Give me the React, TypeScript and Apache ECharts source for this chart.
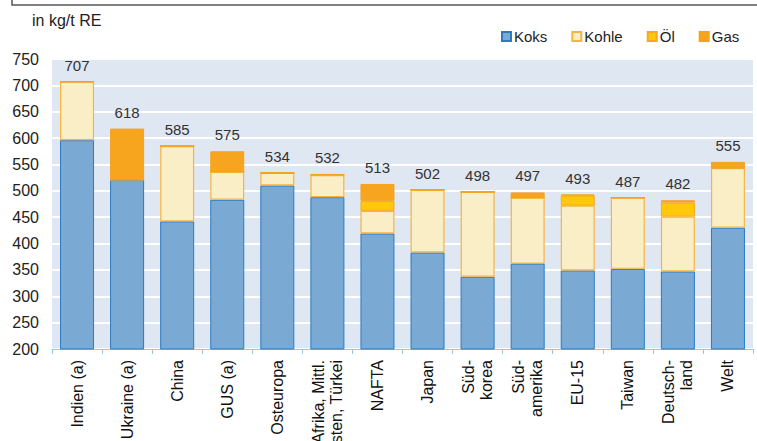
import React, { useEffect, useRef } from "react";
import * as echarts from "echarts";

const categories = [
  "Indien (a)",
  "Ukraine (a)",
  "China",
  "GUS (a)",
  "Osteuropa",
  "Afrika, Mittl.\nOsten, Türkei",
  "NAFTA",
  "Japan",
  "Süd-\nkorea",
  "Süd-\namerika",
  "EU-15",
  "Taiwan",
  "Deutsch-\nland",
  "Welt",
];
const koks = [596, 521, 442, 483, 510, 488, 419, 383, 337, 362, 349, 352, 347, 430];
const kohle = [111, 0, 143, 53, 24, 42, 43, 119, 161, 125, 123, 135, 104, 113];
const oel = [0, 0, 0, 0, 0, 0, 19, 0, 0, 0, 19, 0, 27, 0];
const gas = [0, 97, 0, 39, 0, 2, 32, 0, 0, 10, 2, 0, 4, 12];
const totals = [707, 618, 585, 575, 534, 532, 513, 502, 498, 497, 493, 487, 482, 555];
const yTicks = { min: 200, max: 750, interval: 50 };

export default function App() {
  const ref = useRef<HTMLDivElement>(null);
  useEffect(() => {
    if (!ref.current) return;
    const chart = echarts.init(ref.current, undefined, { renderer: "svg" });
    const font = "'Liberation Sans', Arial, sans-serif";
    const barW = 34;
    chart.setOption({
      animation: false,
      textStyle: { fontFamily: font },
      grid: {
        left: 52,
        right: 4,
        top: 59,
        bottom: 92,
        show: true,
        backgroundColor: "#DFE7F2",
        borderWidth: 0,
        containLabel: false,
        outerBoundsMode: "none",
      },
      legend: {
        left: 496,
        top: 24,
        itemWidth: 9,
        itemHeight: 9,
        itemGap: 24,
        icon: "rect",
        textStyle: { fontSize: 15, color: "#222", fontFamily: font, padding: [0, 0, 0, -2] },
        data: ["Koks", "Kohle", "Öl", "Gas"],
      },
      graphic: [
        {
          type: "polyline",
          shape: { points: [[12, -2], [12, 5], [757, 5]] },
          style: { stroke: "#555", lineWidth: 1.5, fill: "none" },
        },
        {
          type: "text",
          left: 32,
          top: 12,
          style: { text: "in kg/t RE", fontSize: 16, fill: "#222", fontFamily: font },
        },
      ],
      xAxis: {
        type: "category",
        data: categories,
        axisLine: { lineStyle: { color: "#9DC3E6", width: 1 } },
        axisTick: { show: true, length: 5, lineStyle: { color: "#9DC3E6" } },
        axisLabel: {
          rotate: 90,
          interval: 0,
          fontSize: 16,
          color: "#111",
          margin: 11,
          lineHeight: 18,
          fontFamily: font,
        },
      },
      yAxis: {
        type: "value",
        min: yTicks.min,
        max: yTicks.max,
        interval: yTicks.interval,
        axisLine: { show: false },
        axisTick: { show: false },
        splitLine: { lineStyle: { color: "#FFFFFF", width: 2 } },
        axisLabel: { fontSize: 16, color: "#222", margin: 13, fontFamily: font },
      },
      series: [
        {
          name: "Koks",
          type: "bar",
          stack: "s",
          barWidth: barW,
          data: koks,
          itemStyle: { color: "#7AAAD3", borderColor: "#2B7BC3", borderWidth: 1 },
        },
        {
          name: "Kohle",
          type: "bar",
          stack: "s",
          barWidth: barW,
          data: kohle,
          itemStyle: { color: "#FAEEC7", borderColor: "#F6B443", borderWidth: 1.2 },
        },
        {
          name: "Öl",
          type: "bar",
          stack: "s",
          barWidth: barW,
          data: oel,
          itemStyle: { color: "#FFC80A", borderColor: "#F6A823", borderWidth: 1 },
        },
        {
          name: "Gas",
          type: "bar",
          stack: "s",
          barWidth: barW,
          data: gas,
          itemStyle: { color: "#F7A51F", borderColor: "#F5A21E", borderWidth: 1 },
        },
        {
          name: "Summe",
          type: "bar",
          stack: "s",
          barWidth: barW,
          data: totals.map(() => 0),
          itemStyle: { color: "transparent" },
          label: {
            show: true,
            position: "top",
            distance: 9,
            fontSize: 15,
            color: "#333",
            fontFamily: font,
            formatter: (p: any) => String(totals[p.dataIndex]),
          },
        },
      ],
    });
    return () => chart.dispose();
  }, []);
  return <div ref={ref} style={{ width: 757, height: 441, position: "absolute", left: 0, top: 0 }} />;
}
